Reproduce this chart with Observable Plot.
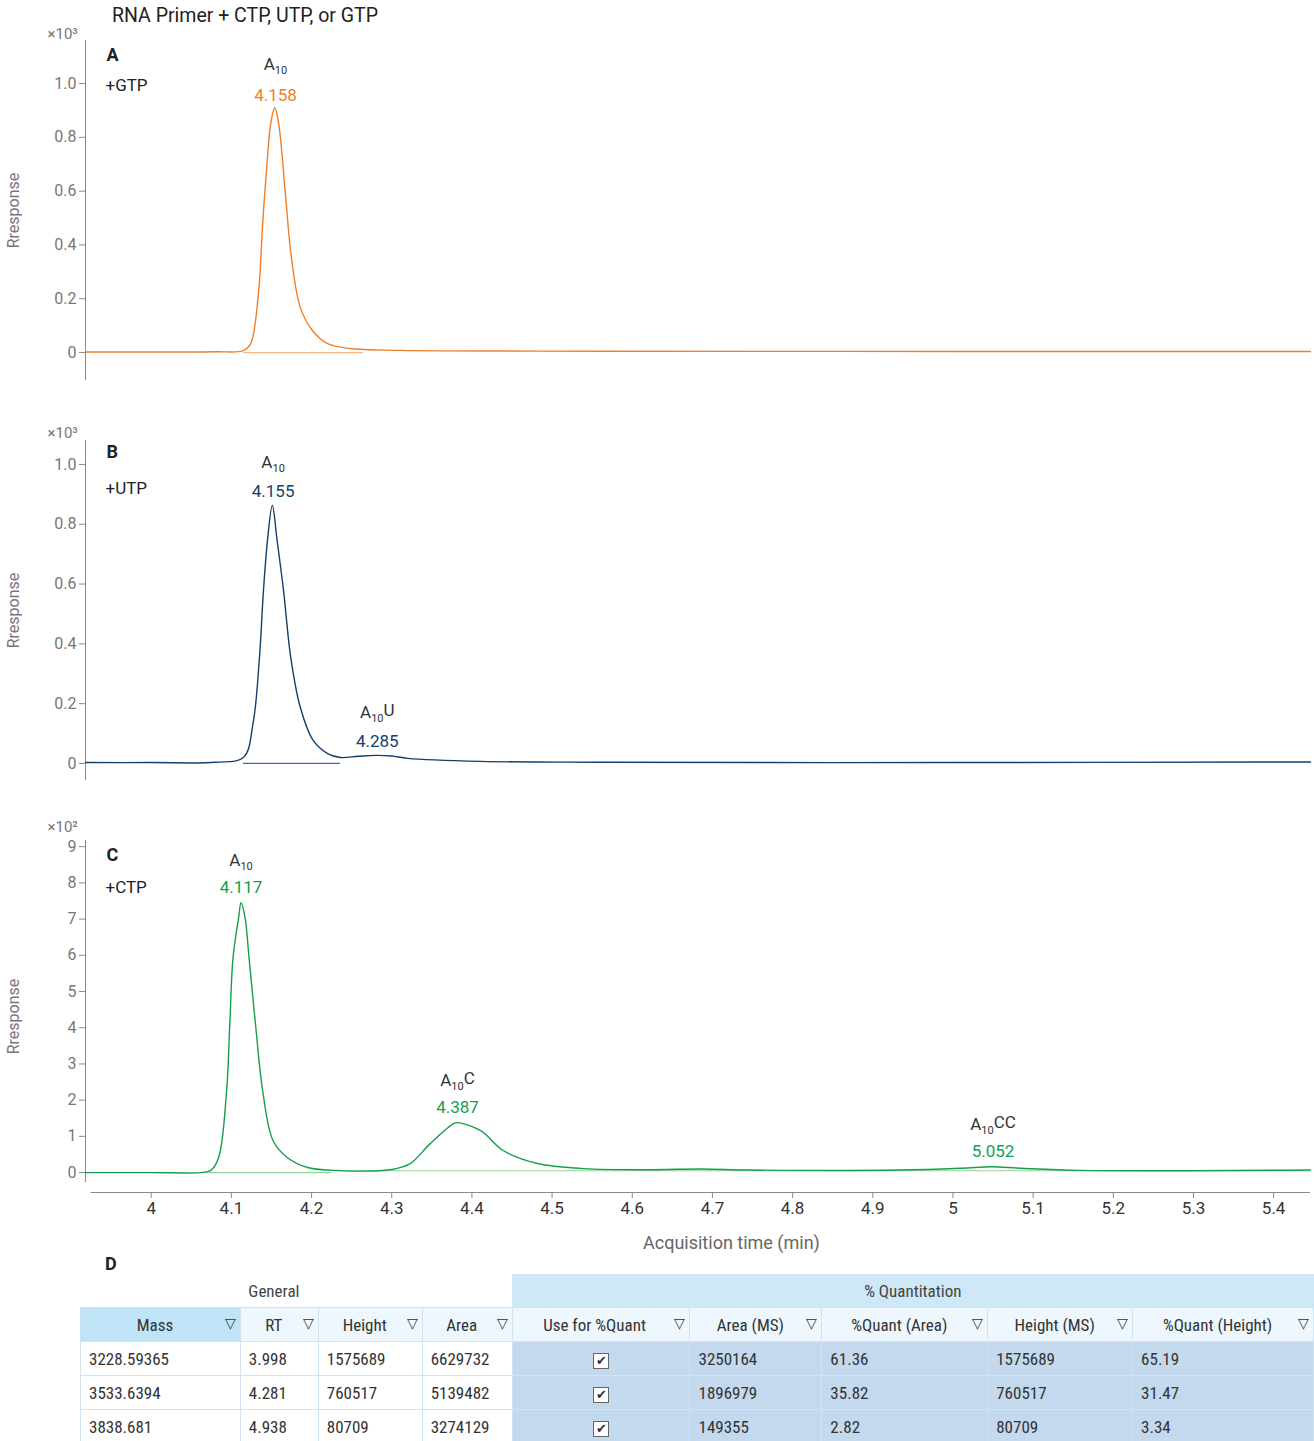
<!DOCTYPE html>
<html><head><meta charset="utf-8">
<script src="https://cdn.jsdelivr.net/npm/d3@7"></script>
<script src="https://cdn.jsdelivr.net/npm/@observablehq/plot@0.6"></script>
<style>
body{margin:0;background:#fff;font-family:Roboto,sans-serif;}
#page{position:relative;width:1314px;height:1441px;overflow:hidden;}
.panel{position:absolute;left:0;}
#title{position:absolute;left:112px;top:4px;font-size:19.5px;color:#222;}
#dlab{position:absolute;left:105px;top:1253px;font-size:18px;font-weight:700;color:#222;}
table{position:absolute;left:80px;top:1274px;border-collapse:collapse;font-family:"Liberation Sans Narrow","Roboto Condensed",Roboto,sans-serif;font-size:17px;color:#333;table-layout:fixed;}
td{height:33px;padding:0 0 0 8px;border:1px solid #cfe3f3;white-space:nowrap;overflow:hidden;}
td.q{background:#c4d8ee;}
tr.h1 td{border:none;}
tr.h2 td{background:#eef7fd;font-size:17px;text-align:center;}
tr.h2 td.m{background:#bfe3f7;}
.f{float:right;margin-right:4px;font-size:14px;}
</style></head><body>
<div id="page">
<div id="title">RNA Primer + CTP, UTP, or GTP</div>
<div id="pA" class="panel" style="top:25px"></div>
<div id="pB" class="panel" style="top:400px"></div>
<div id="pC" class="panel" style="top:790px"></div>
<div id="dlab">D</div>
<div id="tbl"></div>
</div>
<script>
// ---- chromatogram traces (time min, response) ----
const gtpT = [3.918,4.000,4.080,4.115,4.124,4.134,4.139,4.145,4.149,4.154,4.159,4.167,4.175,4.186,4.201,4.220,4.248,4.311,4.560,5.000,5.446];
const gtpY = [0.002,0.002,0.003,0.007,0.033,0.23,0.48,0.725,0.85,0.91,0.85,0.60,0.35,0.167,0.082,0.033,0.015,0.008,0.005,0.004,0.004];
const utpT = [3.918,4.000,4.080,4.115,4.127,4.135,4.140,4.145,4.151,4.157,4.165,4.174,4.186,4.202,4.220,4.236,4.258,4.280,4.300,4.320,4.411,4.560,5.000,5.446];
const utpY = [0.003,0.003,0.004,0.02,0.134,0.355,0.579,0.746,0.863,0.746,0.579,0.355,0.187,0.077,0.033,0.020,0.024,0.027,0.025,0.017,0.007,0.004,0.003,0.005];
const ctpT = [3.918,4.000,4.061,4.074,4.084,4.094,4.098,4.102,4.109,4.112,4.117,4.122,4.130,4.139,4.152,4.170,4.195,4.236,4.298,4.323,4.348,4.377,4.382,4.411,4.439,4.482,4.539,4.623,4.685,4.748,4.935,5.011,5.048,5.084,5.159,5.446];
const ctpY = [0.0,0.0,0.0,0.055,0.41,2.26,4.11,5.93,7.04,7.45,7.04,5.93,4.11,2.26,0.88,0.41,0.14,0.055,0.08,0.25,0.80,1.35,1.38,1.16,0.61,0.25,0.11,0.08,0.10,0.07,0.07,0.12,0.16,0.12,0.06,0.07];

// integration baselines [start, end, level]
const gtpBase = [[4.115, 4.265, 0.0]];
const utpBase = [[4.115, 4.236, 0.0]];
const ctpBase = [[4.073, 4.225, 0.0], [4.23, 5.446, 0.05]];

// peak annotations
const gtpPeaks = [{t: 4.155, y: 0.91, name: "A10", rt: "4.158"}];
const utpPeaks = [{t: 4.152, y: 0.863, name: "A10", rt: "4.155"}, {t: 4.282, y: 0.027, name: "A10U", rt: "4.285"}];
const ctpPeaks = [{t: 4.112, y: 7.45, name: "A10", rt: "4.117"}, {t: 4.382, y: 1.38, name: "A10C", rt: "4.387"}, {t: 5.05, y: 0.16, name: "A10CC", rt: "5.052"}];

const xTicks = [4, 4.1, 4.2, 4.3, 4.4, 4.5, 4.6, 4.7, 4.8, 4.9, 5, 5.1, 5.2, 5.3, 5.4];

// ---- table ----
const groupHeads = ["General", "% Quantitation"];
const colHeads = ["Mass", "RT", "Height", "Area", "Use for %Quant", "Area (MS)", "%Quant (Area)", "Height (MS)", "%Quant (Height)"];
const colWidths = [160, 78, 104, 90, 178, 132, 166, 145, 181];
const massCol = ["3228.59365", "3533.6394", "3838.681"];
const rtCol = ["3.998", "4.281", "4.938"];
const heightCol = ["1575689", "760517", "80709"];
const areaCol = ["6629732", "5139482", "3274129"];
const areaMsCol = ["3250164", "1896979", "149355"];
const qAreaCol = ["61.36", "35.82", "2.82"];
const heightMsCol = ["1575689", "760517", "80709"];
const qHeightCol = ["65.19", "31.47", "3.34"];

const XDOM = [3.918, 5.446];
const GRAY = "#8a8a8a";

function toRows(ts, ys) { return ts.map((t, i) => ({t, y: ys[i]})); }

function panel(cfg) {
  const rows = toRows(cfg.t, cfg.y);
  const marks = [
    Plot.ruleX([XDOM[0]], {y1: cfg.axisBot, y2: cfg.axisTop, stroke: GRAY}),
    Plot.axisY({ticks: cfg.yticks, tickFormat: cfg.fmt, tickSize: 6, stroke: GRAY, color: "#777", fontSize: 16,
      label: "Rresponse", labelAnchor: "center", labelArrow: "none", labelOffset: 78}),
    Plot.ruleY(cfg.base, {x1: d => d[0], x2: d => d[1], y: d => d[2], stroke: cfg.light, strokeWidth: 1.2}),
    Plot.line(rows, {x: "t", y: "y", stroke: cfg.color, strokeWidth: 1.4, curve: "catmull-rom"}),
    Plot.text(cfg.peaks, {x: "t", y: "y", text: "name", dy: cfg.nameDy, fontSize: 17, fill: "#333"}),
    Plot.text(cfg.peaks, {x: "t", y: "y", text: "rt", dy: cfg.rtDy, fontSize: 17, fill: cfg.color}),
    Plot.text([cfg.letter], {frameAnchor: "top-left", dx: 21, dy: cfg.letterDy, fontSize: 18, fontWeight: 700, fill: "#222"}),
    Plot.text([cfg.tag], {frameAnchor: "top-left", dx: 20, dy: cfg.tagDy, fontSize: 17, fill: "#222"}),
    Plot.text([cfg.exp], {frameAnchor: "top-left", dx: -38, dy: cfg.expDy, fontSize: 15, fill: "#777"})
  ];
  if (cfg.xaxis) {
    marks.push(Plot.ruleY([cfg.xAxisY], {x1: 3.925, x2: XDOM[1], stroke: GRAY}));
    marks.push(Plot.axisX({ticks: xTicks, tickFormat: d => String(d), tickSize: 6, stroke: GRAY, color: "#333", fontSize: 17,
      anchor: "bottom", label: null}));
  } else {
    marks.push(Plot.axisX({ticks: [], label: null}));
  }
  const svg = Plot.plot({
    width: 1314, height: cfg.height,
    marginLeft: 85, marginRight: 4, marginTop: cfg.mt, marginBottom: cfg.mb,
    style: {fontFamily: "Roboto, sans-serif", background: "transparent"},
    x: {domain: XDOM, axis: null, label: null},
    y: {domain: cfg.ydom},
    marks
  });
  d3.select(svg).selectAll("text").each(function () {
    const s = this.textContent;
    if (this.childElementCount === 0 && /^A10/.test(s)) {
      const el = d3.select(this);
      el.text("");
      el.append("tspan").text("A");
      el.append("tspan").text("10").attr("font-size", "11px").attr("dy", "0.35em");
      if (s.length > 3) el.append("tspan").text(s.slice(3)).attr("dy", "-0.35em");
    }
  });
  document.getElementById(cfg.id).append(svg);
}

const f1 = d => d === 0 ? "0" : d.toFixed(1);

panel({id: "pA", t: gtpT, y: gtpY, base: gtpBase, peaks: gtpPeaks, color: "#f07f2a", light: "#f6b784",
  height: 365, mt: 15, mb: 10, ydom: [-0.104, 1.16], axisBot: -0.104, axisTop: 1.16, yticks: [0, 0.2, 0.4, 0.6, 0.8, 1.0], fmt: f1,
  nameDy: -43, rtDy: -12, letter: "A", letterDy: 8, tag: "+GTP", tagDy: 38, exp: "×10³", expDy: -12});
panel({id: "pB", t: utpT, y: utpY, base: utpBase, peaks: utpPeaks, color: "#123f6b", light: "#4b5cd0",
  height: 390, mt: 40, mb: 10, ydom: [-0.057, 1.08], axisBot: -0.057, axisTop: 1.08, yticks: [0, 0.2, 0.4, 0.6, 0.8, 1.0], fmt: f1,
  nameDy: -43, rtDy: -14, letter: "B", letterDy: 5, tag: "+UTP", tagDy: 41, exp: "×10³", expDy: -13});
panel({id: "pC", t: ctpT, y: ctpY, base: ctpBase, peaks: ctpPeaks, color: "#14a04a", light: "#92d49a",
  height: 470, mt: 50, mb: 68, ydom: [-0.55, 9.17], axisBot: -0.276, axisTop: 9.17, yticks: d3.range(0, 10), fmt: d => String(d),
  nameDy: -42, rtDy: -15, letter: "C", letterDy: 8, tag: "+CTP", tagDy: 40, exp: "×10²", expDy: -19,
  xaxis: true, xAxisY: -0.55});

// x label
d3.select("#pC").append("div").text("Acquisition time (min)")
  .style("position", "absolute").style("left", "643px").style("top", "442px")
  .style("font-size", "18px").style("color", "#666").style("white-space", "nowrap");

// table
const cols = [massCol, rtCol, heightCol, areaCol, null, areaMsCol, qAreaCol, heightMsCol, qHeightCol];
let h = "<table><colgroup>" + colWidths.map(w => `<col style="width:${w}px">`).join("") + "</colgroup>";
h += `<tr class="h1"><td></td><td colspan="3" style="padding-left:8px;color:#444">${groupHeads[0]}</td>` +
  `<td colspan="5" style="background:#cfe8f7;text-align:center;padding-left:0;color:#444">${groupHeads[1]}</td></tr>`;
h += '<tr class="h2">' + colHeads.map((c, i) => `<td class="${i === 0 ? "m" : ""}" style="padding-left:${i === 4 ? 2 : 4}px">${c}<span class="f">&#9661;</span></td>`).join("") + "</tr>";
for (let r = 0; r < massCol.length; r++) {
  h += "<tr>" + cols.map((c, i) => {
    const q = i >= 4 ? ' class="q"' : "";
    if (c === null) return `<td${q} style="text-align:center;padding:0"><span style="display:inline-block;width:14px;height:14px;border:1px solid #666;background:#fff;font-size:13px;line-height:14px">&#10004;</span></td>`;
    return `<td${q}>${c[r]}</td>`;
  }).join("") + "</tr>";
}
h += "</table>";
document.getElementById("tbl").innerHTML = h;
</script>
</body></html>
